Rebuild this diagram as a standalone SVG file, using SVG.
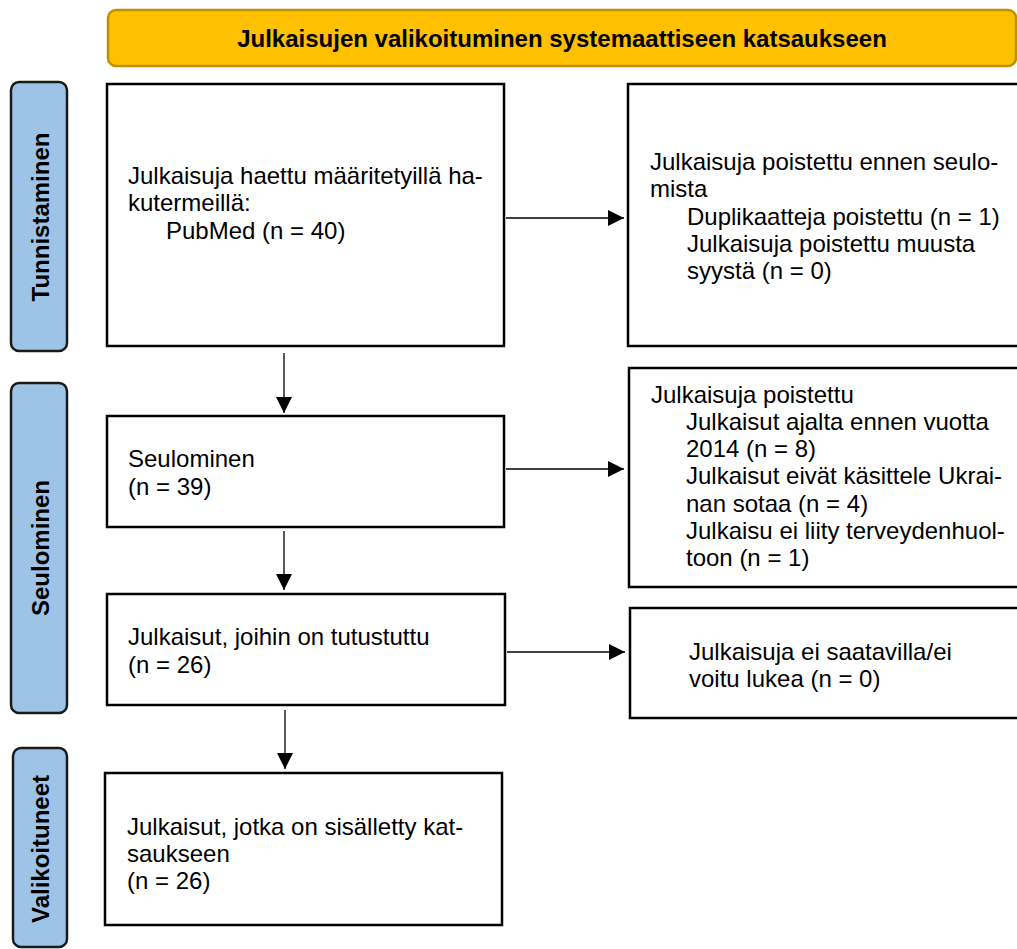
<svg xmlns="http://www.w3.org/2000/svg" width="1017" height="949" viewBox="0 0 1017 949">
<style>
text{font-family:"Liberation Sans",Arial,sans-serif;font-size:24px;fill:#000}
.b{font-weight:bold}
.box{fill:#fff;stroke:#000;stroke-width:2.5}
.side{fill:#9DC3E6;stroke:#1a1a1a;stroke-width:2.5}
.hdr{fill:#FFC000;stroke:#BF9000;stroke-width:2.5}
.c{stroke:#000;stroke-width:1.3;fill:none;marker-end:url(#ah)}
</style>
<defs>
<marker id="ah" markerUnits="userSpaceOnUse" markerWidth="16" markerHeight="16" refX="16" refY="8" orient="auto">
<path d="M0,0 L16,8 L0,16 z" fill="#000"/>
</marker>
</defs>
<rect width="1017" height="949" fill="#fff"/>
<g id="header">
<rect class="hdr" x="108" y="10" width="908" height="56" rx="8"/>
<text class="b" x="562" y="47" text-anchor="middle">Julkaisujen valikoituminen systemaattiseen katsaukseen</text>
</g>
<g id="side-tunnistaminen">
<rect class="side" x="11" y="82" width="56" height="269" rx="8"/>
<text class="b" transform="translate(48.5,217) rotate(-90)" text-anchor="middle">Tunnistaminen</text>
</g>
<g id="side-seulominen">
<rect class="side" x="11" y="383" width="56" height="330" rx="8"/>
<text class="b" transform="translate(48.5,548) rotate(-90)" text-anchor="middle">Seulominen</text>
</g>
<g id="side-valikoituneet">
<rect class="side" x="13" y="748" width="54" height="199" rx="8"/>
<text class="b" transform="translate(49,849) rotate(-90)" text-anchor="middle">Valikoituneet</text>
</g>
<g id="haku">
<rect class="box" x="107" y="84" width="397" height="262"/>
<text x="128" y="184">Julkaisuja haettu määritetyillä ha-</text>
<text x="128" y="211">kutermeillä:</text>
<text x="166" y="239">PubMed (n = 40)</text>
</g>
<g id="poistettu-ennen">
<rect class="box" x="628" y="84" width="400" height="262"/>
<text x="650" y="170">Julkaisuja poistettu ennen seulo-</text>
<text x="650" y="197">mista</text>
<text x="687" y="225">Duplikaatteja poistettu (n = 1)</text>
<text x="687" y="252">Julkaisuja poistettu muusta</text>
<text x="687" y="279">syystä (n = 0)</text>
</g>
<g id="seulominen">
<rect class="box" x="107" y="416" width="397" height="111"/>
<text x="128" y="467">Seulominen</text>
<text x="128" y="495">(n = 39)</text>
</g>
<g id="poistettu">
<rect class="box" x="629" y="368" width="400" height="219"/>
<text x="651" y="403">Julkaisuja poistettu</text>
<text x="686" y="430">Julkaisut ajalta ennen vuotta</text>
<text x="686" y="457">2014 (n = 8)</text>
<text x="686" y="484">Julkaisut eivät käsittele Ukrai-</text>
<text x="686" y="512">nan sotaa (n = 4)</text>
<text x="686" y="539">Julkaisu ei liity terveydenhuol-</text>
<text x="686" y="566">toon (n = 1)</text>
</g>
<g id="tutustuttu">
<rect class="box" x="107" y="594" width="398" height="111"/>
<text x="128" y="645">Julkaisut, joihin on tutustuttu</text>
<text x="128" y="673">(n = 26)</text>
</g>
<g id="ei-saatavilla">
<rect class="box" x="630" y="608" width="400" height="110"/>
<text x="689" y="660">Julkaisuja ei saatavilla/ei</text>
<text x="689" y="687">voitu lukea (n = 0)</text>
</g>
<g id="sisallytetty">
<rect class="box" x="105" y="773" width="397" height="152"/>
<text x="127" y="835">Julkaisut, jotka on sisälletty kat-</text>
<text x="127" y="862">saukseen</text>
<text x="127" y="889">(n = 26)</text>
</g>
<g id="connectors">
<line class="c" x1="506" y1="218" x2="624" y2="218"/>
<line class="c" x1="284" y1="353" x2="284" y2="413"/>
<line class="c" x1="506" y1="469" x2="624" y2="469"/>
<line class="c" x1="284" y1="531" x2="284" y2="590"/>
<line class="c" x1="507" y1="652" x2="625" y2="652"/>
<line class="c" x1="285" y1="710" x2="285" y2="769"/>
</g>
</svg>
